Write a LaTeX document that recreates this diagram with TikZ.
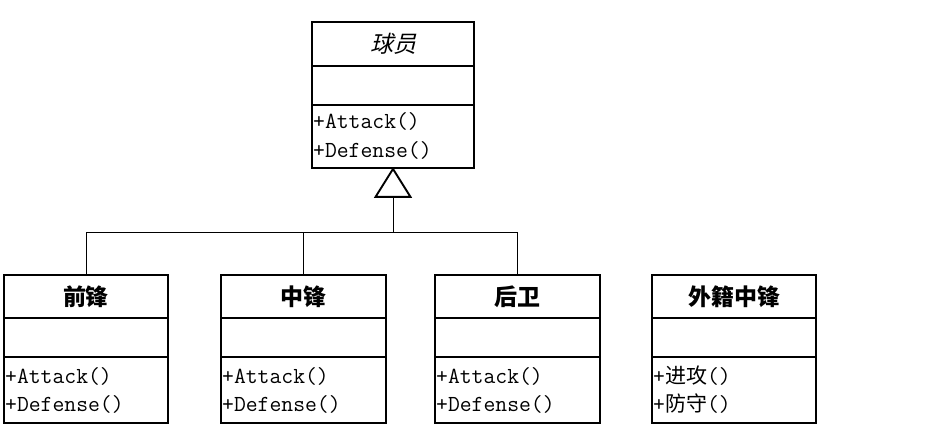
\documentclass[tikz,border=0pt]{standalone}
\usepackage{fontspec}
\usetikzlibrary{calc}
\newfontfamily\cjk{Noto Sans CJK SC}
\newfontfamily\cjkit[FakeSlant=0.25]{Noto Sans CJK SC}
\tikzset{
  classbox/.style={draw, line width=1.9pt, inner sep=0pt},
  sepline/.style={line width=1.5pt},
  conn/.style={line width=0.9pt},
  titletext/.style={font=\fontsize{23}{26}\selectfont\cjk\bfseries, inner sep=0pt},
  optext/.style={anchor=west, inner sep=1pt, font=\fontsize{23}{26}\selectfont\ttfamily},
}
% name, left, top, right, bottom, sep1, sep2, title, ops
\newcommand\umlclass[9]{%
  \node[classbox, minimum width={#4-#2}, minimum height={#5-#3}] (#1) at ({(#2+#4)/2},{(#3+#5)/2}) {};
  \draw[sepline] (#1.west |- 0,#6) -- (#1.east |- 0,#6);
  \draw[sepline] (#1.west |- 0,#7) -- (#1.east |- 0,#7);
  \node[titletext] (#1-t) at ({(#2+#4)/2},{(#3+#6)/2}) {#8};
  #9
}
\begin{document}
\begin{tikzpicture}[x=1pt,y=-1pt]
\useasboundingbox (0,0) rectangle (930,430);
\fill[white] (0,0) rectangle (930,430);

\umlclass{player}{312}{22}{474}{168}{66}{105}{\cjkit\mdseries 球员}{%
  \node[optext] (player-a) at (312,121) {+Attack()};
  \node[optext] (player-d) at (312,150) {+Defense()};}

\umlclass{fw}{4}{275}{168}{423}{318}{357}{前锋}{%
  \node[optext] (fw-a) at (4,376) {+Attack()};
  \node[optext] (fw-d) at (4,404) {+Defense()};}

\umlclass{cf}{221}{275}{386}{423}{318}{357}{中锋}{%
  \node[optext] (cf-a) at (221,376) {+Attack()};
  \node[optext] (cf-d) at (221,404) {+Defense()};}

\umlclass{bk}{435}{275}{600}{423}{318}{357}{后卫}{%
  \node[optext] (bk-a) at (435,376) {+Attack()};
  \node[optext] (bk-d) at (435,404) {+Defense()};}

\umlclass{fc}{652}{275}{816}{423}{318}{357}{外籍中锋}{%
  \node[optext] (fc-a) at (652,376) {+{\cjk\fontsize{21}{24}\selectfont 进攻}()};
  \node[optext] (fc-d) at (652,404) {+{\cjk\fontsize{21}{24}\selectfont 防守}()};}

% inheritance
\coordinate (tri) at ($(player.south)+(0,28)$);
\coordinate (bus) at ($(player.south)+(0,64)$);
\draw[line width=1.9pt, fill=white, line join=miter] (player.south) -- ($(tri)+(-17.5,0)$) -- ($(tri)+(17.5,0)$) -- cycle;
\draw[conn] (tri) -- (bus);
\draw[conn] (fw.north) -- (fw.north |- bus) -- (bk.north |- bus) -- (bk.north);
\draw[conn] (cf.north) -- (cf.north |- bus);
\end{tikzpicture}
\end{document}
